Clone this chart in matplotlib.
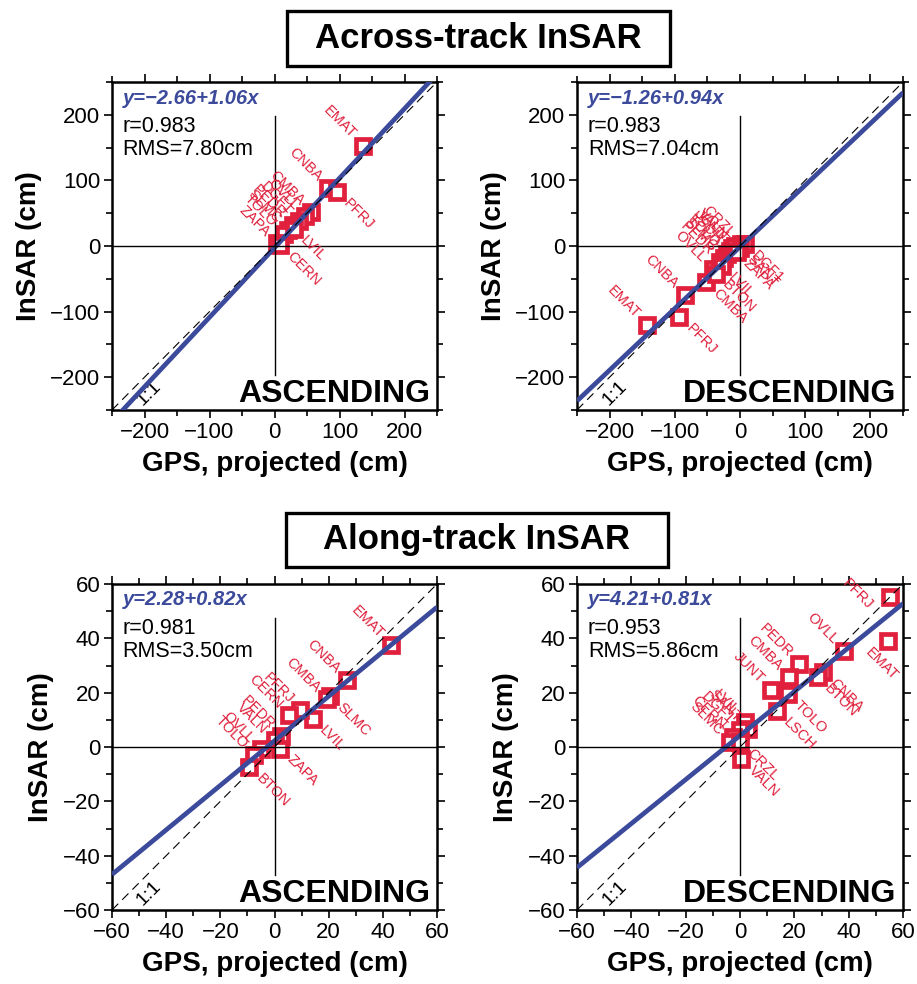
import matplotlib
matplotlib.use("Agg")
import matplotlib.pyplot as plt
from matplotlib.patches import Rectangle
from matplotlib.ticker import MultipleLocator

plt.rcParams['font.family'] = ['Liberation Sans', 'DejaVu Sans']

RED = '#e0203c'
BLUE = '#3c4a9c'

# across-track, ascending
acr_asc_names = ['EMAT', 'CNBA', 'PFRJ', 'CMBA', 'OVLL', 'DGF1', 'PEDR', 'SLMC', 'TOLO', 'ZAPA', 'LVIL', 'CERN']
acr_asc_gps = [136, 83, 96, 56, 47, 38, 28, 20, 14, 4, 30, 8]
acr_asc_insar = [153, 88, 82, 52, 45, 38, 32, 25, 19, 4, 26, 2]
acr_asc_side = ['ul', 'ul', 'lr', 'ul', 'ul', 'ul', 'ul', 'ul', 'ul', 'ul', 'lr', 'lr']

# across-track, descending
acr_dsc_names = ['EMAT', 'PFRJ', 'CNBA', 'CMBA', 'OVLL', 'PEDR', 'SLMC', 'TOLO', 'LSCH', 'JUNT',
                 'VALN', 'CRZL', 'DGF1', 'SANT', 'ZAPA', 'LVIL', 'BTON']
acr_dsc_gps = [-143, -93, -84, -52, -42, -30, -24, -20, -16, -12, -8, 2, 7, 0, -5, -28, -37]
acr_dsc_insar = [-121, -108, -75, -55, -35, -25, -18, -12, -8, -3, 0, 3, 3, -3, -9, -30, -42]
acr_dsc_side = ['ul', 'lr', 'ul', 'lr', 'ul', 'ul', 'ul', 'ul', 'ul', 'ul',
                'ul', 'ul', 'lr', 'lr', 'lr', 'lr', 'lr']

# along-track, ascending
alg_asc_names = ['EMAT', 'CNBA', 'SLMC', 'CMBA', 'LVIL', 'PFRJ', 'CERN', 'PEDR', 'VALN', 'ZAPA',
                 'OVLL', 'TOLO', 'BTON']
alg_asc_gps = [43, 26.8, 20.6, 19.4, 14.1, 9.5, 5.4, 2.4, 0, 2.2, -5.0, -7.4, -9.3]
alg_asc_insar = [37.5, 24.8, 18.6, 17.5, 10.4, 13.5, 11.7, 4.2, 2.4, -0.6, -0.8, -3.0, -7.4]
alg_asc_side = ['ul', 'ul', 'lr', 'ul', 'lr', 'ul', 'ul', 'ul', 'ul', 'lr', 'ul', 'ul', 'lr']

# along-track, descending
alg_dsc_names = ['PFRJ', 'EMAT', 'OVLL', 'CNBA', 'BTON', 'PEDR', 'CMBA', 'JUNT', 'TOLO', 'LSCH',
                 'LVIL', 'SANT', 'DGF1', 'CERN', 'SLMC', 'CRZL', 'VALN']
alg_dsc_gps = [55.2, 54.3, 38.4, 30.5, 28.6, 21.9, 18.2, 11.5, 17.6, 13.6,
               1.7, 2.9, 0.0, -2.6, -3.8, 0.0, 0.5]
alg_dsc_insar = [55.1, 39.2, 35.3, 27.5, 25.7, 30.6, 25.7, 21.1, 19.6, 13.2,
                 9.2, 6.7, 6.1, 3.7, 1.8, 1.8, -4.3]
alg_dsc_side = ['l', 'bl', 'ul', 'lr', 'lr', 'ul', 'ul', 'ul', 'lr', 'lr',
                'ul', 'ul', 'ul', 'ul', 'ul', 'lr', 'lr']

# fit results printed on each panel: intercept, slope, r, rms
fit_intercept = [-2.66, -1.26, 2.28, 4.21]
fit_slope = [1.06, 0.94, 0.82, 0.81]
fit_r = [0.983, 0.983, 0.981, 0.953]
fit_rms = [7.80, 7.04, 3.50, 5.86]
orbits = ['ASCENDING', 'DESCENDING', 'ASCENDING', 'DESCENDING']

# label placement: (x offset, y offset, horizontal alignment), in points
LABEL_OFFSETS = {
    'ul': (-6.5, 6.5, 'right'),
    'lr': (6.5, -6.5, 'left'),
    'l': (-14, -7, 'right'),
    'bl': (-14, -7, 'left'),
}


def fmt(v):
    return f"{v:.2f}".replace('-', '\u2212')


def draw_panel(ax, i, gps, insar, names, sides, lim, major, minor):
    ax.set_xlim(-lim, lim)
    ax.set_ylim(-lim, lim)

    ax.plot(gps, insar, 's', ms=9.5, mew=3.4, mec=RED, mfc='white', zorder=3)

    a, b = fit_intercept[i], fit_slope[i]
    xs = [-lim, lim]
    ax.plot(xs, [a + b * x for x in xs], color=BLUE, lw=3.4, zorder=4, solid_capstyle='butt')
    ax.plot(xs, xs, color='black', lw=0.8, ls=(0, (8, 5)), zorder=5)

    ax.axhline(0, color='black', lw=1.0, zorder=6)
    ax.plot([0, 0], [-0.785 * lim, 0.79 * lim], color='black', lw=1.0, zorder=6)

    for name, x, y, s in zip(names, gps, insar, sides):
        dx, dy, ha = LABEL_OFFSETS[s]
        ax.annotate(name, (x, y), xytext=(dx, dy), textcoords='offset points',
                    ha=ha, va='center', rotation=-45, rotation_mode='anchor',
                    color=RED, fontsize=10.5, zorder=7)

    ax.text(0.033, 0.951, f"y={fmt(a)}+{fmt(b)}x", transform=ax.transAxes,
            color=BLUE, fontsize=14.5, fontweight='bold', fontstyle='italic', va='center')
    ax.text(0.033, 0.863, f"r={fit_r[i]:.3f}", transform=ax.transAxes, fontsize=15.5, va='center')
    ax.text(0.033, 0.793, f"RMS={fit_rms[i]:.2f}cm", transform=ax.transAxes, fontsize=15.5, va='center')
    ax.text(0.978, 0.024, orbits[i], transform=ax.transAxes, fontsize=23, fontweight='bold',
            ha='right', va='baseline')
    ax.text(-0.77 * lim, -0.9 * lim, '1:1', rotation=45, fontsize=14, ha='center', va='center')

    ax.xaxis.set_major_locator(MultipleLocator(major))
    ax.yaxis.set_major_locator(MultipleLocator(major))
    ax.xaxis.set_minor_locator(MultipleLocator(minor))
    ax.yaxis.set_minor_locator(MultipleLocator(minor))
    ax.tick_params(which='both', direction='out', top=True, right=True, labelsize=16, width=1.2)
    ax.tick_params(which='major', length=5.5, pad=3)
    ax.tick_params(which='minor', length=4.5)
    for sp in ax.spines.values():
        sp.set_linewidth(1.8)
    ax.set_xlabel('GPS, projected (cm)', fontsize=20, fontweight='bold', labelpad=6)
    ax.set_ylabel('InSAR (cm)', fontsize=20, fontweight='bold', labelpad=6)


fig = plt.figure(figsize=(9.17, 9.84), dpi=100)
W, H = 917, 984


def axes_px(left, top, right, bottom):
    return fig.add_axes([left / W, 1 - bottom / H, (right - left) / W, (bottom - top) / H])


ax1 = axes_px(112, 82, 437, 410)
ax2 = axes_px(577, 82, 903, 410)
ax3 = axes_px(112, 584, 437, 910)
ax4 = axes_px(577, 584, 903, 910)

draw_panel(ax1, 0, acr_asc_gps, acr_asc_insar, acr_asc_names, acr_asc_side, 250, 100, 50)
draw_panel(ax2, 1, acr_dsc_gps, acr_dsc_insar, acr_dsc_names, acr_dsc_side, 250, 100, 50)
draw_panel(ax3, 2, alg_asc_gps, alg_asc_insar, alg_asc_names, alg_asc_side, 60, 20, 10)
draw_panel(ax4, 3, alg_dsc_gps, alg_dsc_insar, alg_dsc_names, alg_dsc_side, 60, 20, 10)


def title_box(text, left, top, right, bottom):
    fig.add_artist(Rectangle((left / W, 1 - bottom / H), (right - left) / W, (bottom - top) / H,
                             transform=fig.transFigure, fill=False, lw=2.4, color='black'))
    fig.text((left + right) / 2 / W, 1 - (top + bottom) / 2 / H, text, fontsize=25,
             fontweight='bold', ha='center', va='center')


title_box('Across-track InSAR', 287, 11, 670, 66)
title_box('Along-track InSAR', 286, 513, 668, 567)

fig.savefig('out.png', dpi=100)
